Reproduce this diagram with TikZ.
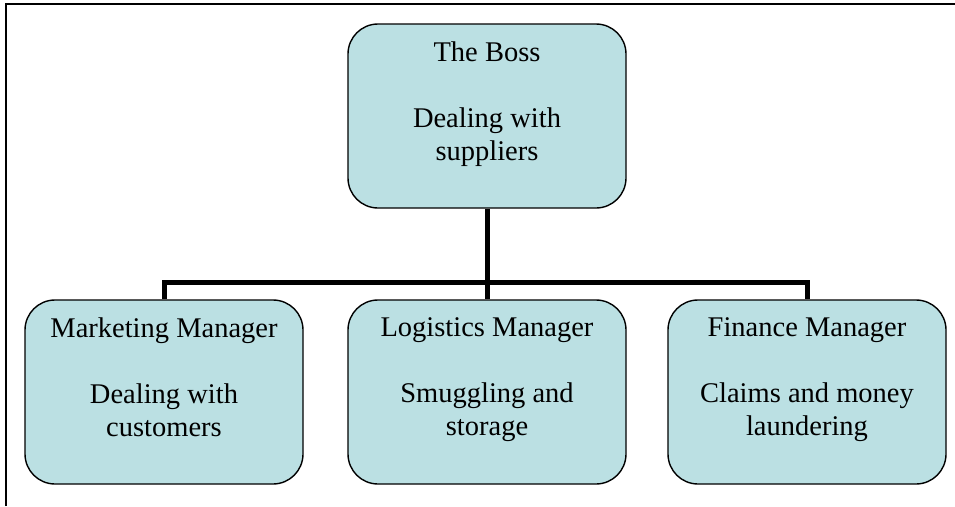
\documentclass[tikz,border=0pt]{standalone}
\usepackage{fontspec}
\setmainfont{Liberation Serif}
\definecolor{boxblue}{RGB}{187,224,227}
\begin{document}
\begin{tikzpicture}[x=1pt,y=-1pt,
	card/.style={draw,line width=1.4pt,fill=boxblue,rounded corners=30pt,minimum width=278pt,minimum height=184pt,inner sep=0pt},
	cardtext/.style={anchor=north,align=center,inner sep=0pt,font=\fontsize{28.5}{33}\selectfont},
	link/.style={line width=5pt,line join=miter}]
				\useasboundingbox (0,0) rectangle (955,506);
				\draw[line width=2pt] (6,506) -- (6,4) -- (955,4);
				% boxes
				\node[card] (boss) at (487,116) {};
				\node[card] (mkt) at (164,392) {};
				\node[card] (log) at (487,392) {};
				\node[card] (fin) at (807,392) {};
				% texts
				\node[cardtext] (bosstext) at ([yshift=-18.5pt]boss.north) {The Boss\\[33pt]Dealing with\\suppliers};
				\node[cardtext] (mkttext) at ([yshift=-18pt]mkt.north) {Marketing Manager\\[33pt]Dealing with\\customers};
				\node[cardtext] (logtext) at ([yshift=-18pt]log.north) {Logistics Manager\\[33pt]Smuggling and\\storage};
				\node[cardtext] (fintext) at ([yshift=-18pt]fin.north) {Finance Manager\\[33pt]Claims and money\\laundering};
				% connectors
				\coordinate (bus) at (487,282);
				\draw[link] (boss.south) -- (log.north);
				\draw[link] (mkt.north) -- (mkt.north |- bus) -- (fin.north |- bus) -- (fin.north);
\end{tikzpicture}
\end{document}
